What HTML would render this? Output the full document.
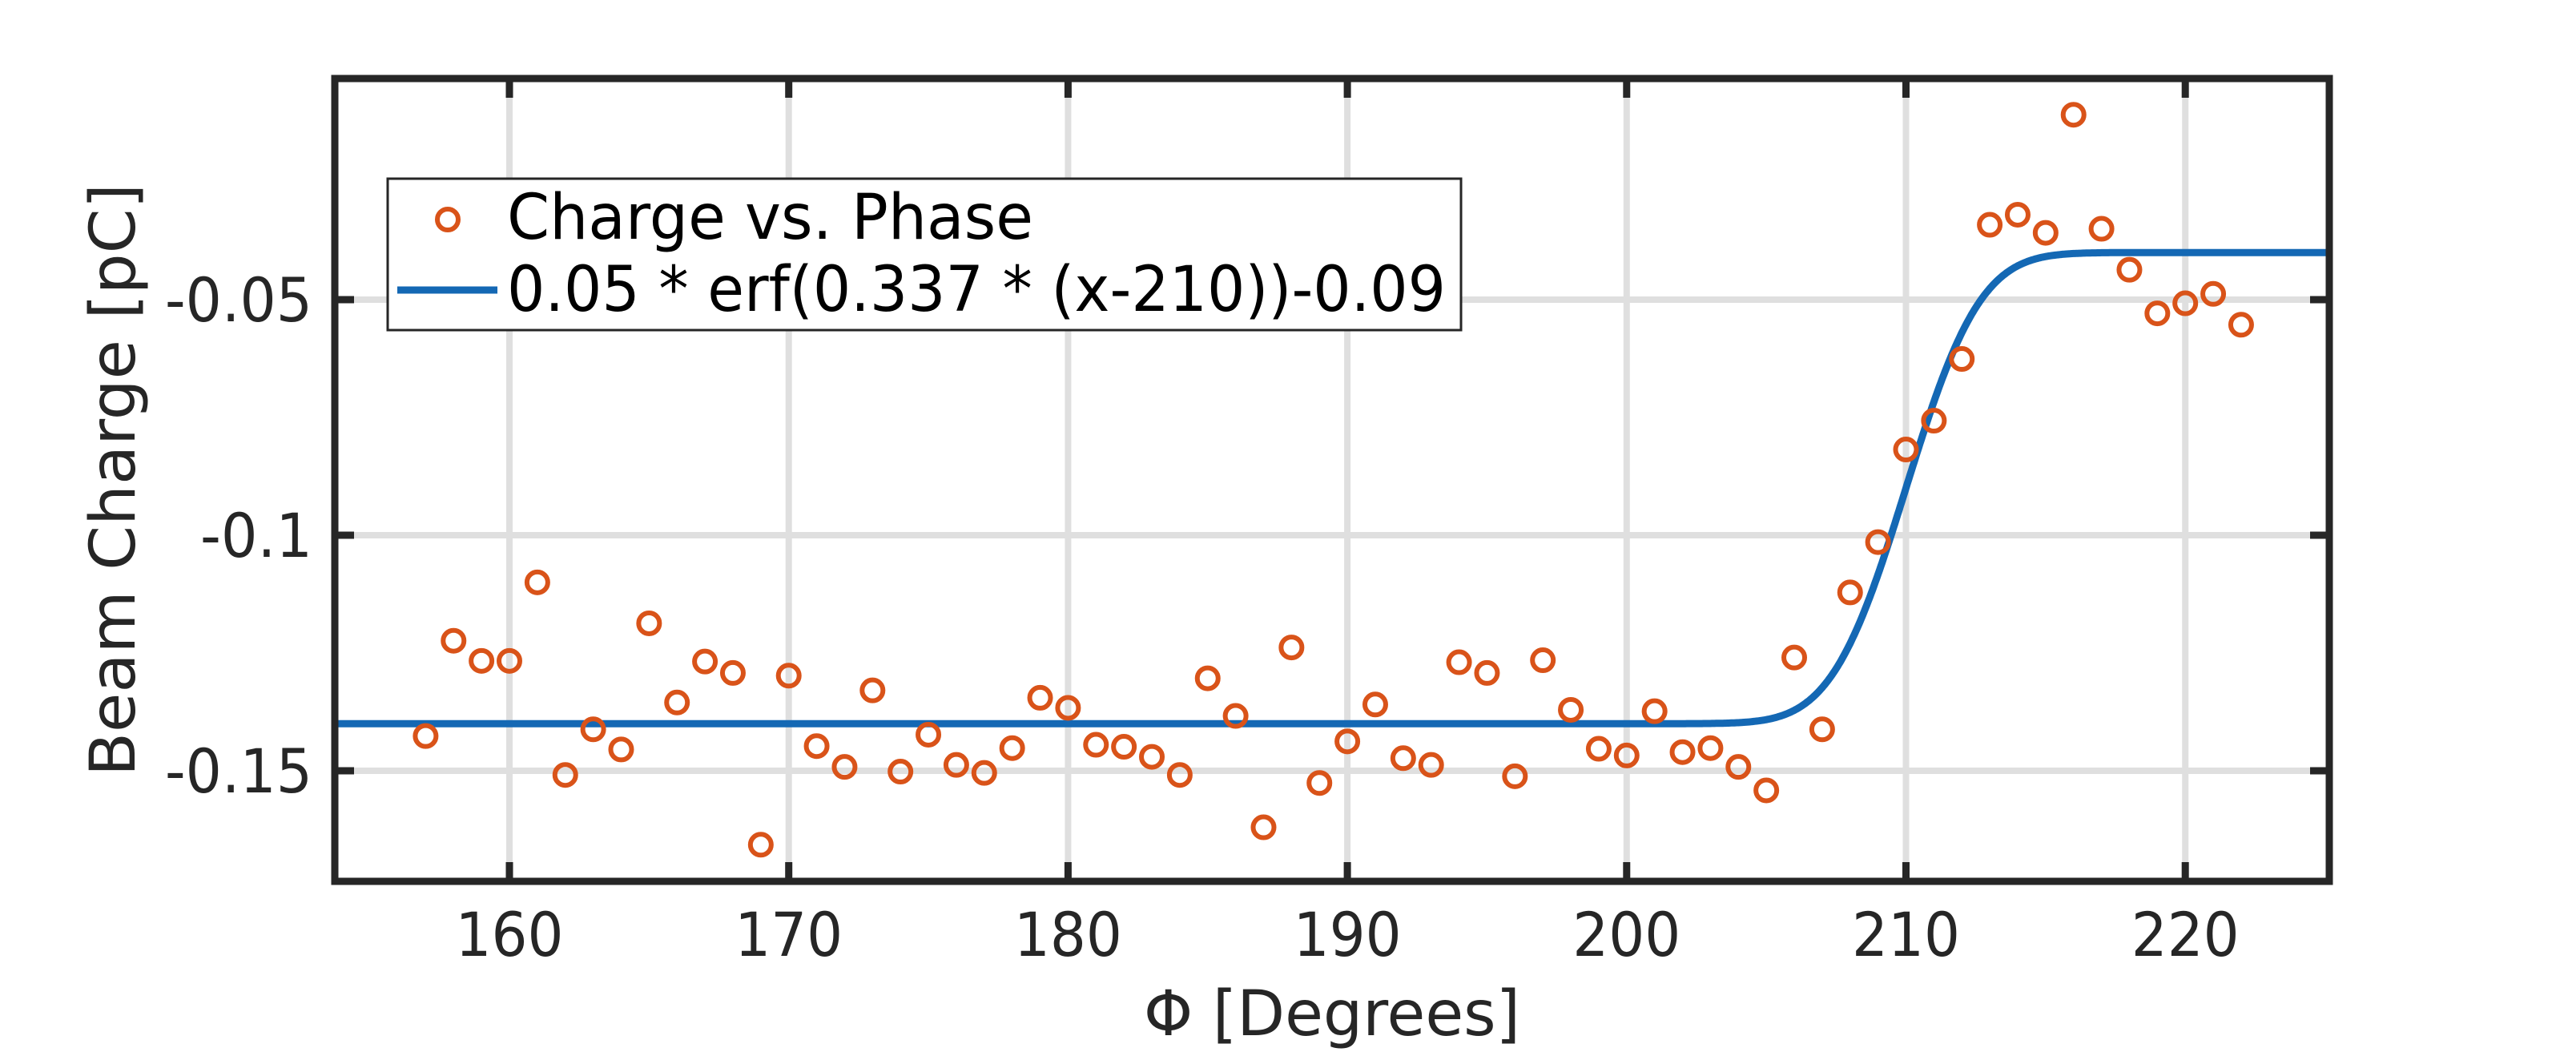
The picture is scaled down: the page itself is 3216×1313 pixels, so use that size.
<!DOCTYPE html>
<html><head><meta charset="utf-8"><style>
html,body{margin:0;padding:0;background:#fff;}
svg{display:block;}
text{font-family:"DejaVu Sans","Liberation Sans",sans-serif;fill:#262626;}
</style></head><body>
<svg id="s" width="3216" height="1313" viewBox="0 0 3216 1313" xmlns="http://www.w3.org/2000/svg">
<rect width="3216" height="1313" fill="#fff"/>
<g id="grid" stroke="#dfdfdf" stroke-width="8"></g>
<g id="curve"></g>
<g id="pts" fill="none" stroke="#d95319" stroke-width="6"></g>
<g id="ticks" stroke="#262626" stroke-width="9"></g>
<rect x="418" y="98" width="2490" height="1002" fill="none" stroke="#262626" stroke-width="9"/>
<g id="labels" font-size="76"></g>
<text x="1663" y="1292" font-size="78" text-anchor="middle" textLength="470" lengthAdjust="spacingAndGlyphs">Φ [Degrees]</text>
<text transform="translate(168,599) rotate(-90)" font-size="78" text-anchor="middle" textLength="740" lengthAdjust="spacingAndGlyphs">Beam Charge [pC]</text>
<rect x="484" y="223" width="1340" height="189" fill="#fff" stroke="#262626" stroke-width="3"/>
<circle cx="559" cy="274" r="13" fill="none" stroke="#d95319" stroke-width="6"/>
<line x1="496" y1="362" x2="621" y2="362" stroke="#1468b4" stroke-width="9"/>
<text x="633" y="298" font-size="78" style="fill:#000" textLength="657" lengthAdjust="spacingAndGlyphs">Charge vs. Phase</text>
<text x="633" y="388" font-size="78" style="fill:#000" textLength="1172" lengthAdjust="spacingAndGlyphs">0.05 * erf(0.337 * (x-210))-0.09</text>
</svg>
<script>
var NS="http://www.w3.org/2000/svg";
function X(v){return 636+(v-160)*34.87;}
function Y(v){return 374-(v+0.05)*5880;}
function el(p,t,a){var e=document.createElementNS(NS,t);for(var k in a)e.setAttribute(k,a[k]);document.getElementById(p).appendChild(e);return e;}
[160,170,180,190,200,210,220].forEach(function(v){
 var x=X(v);
 el('grid','line',{x1:x,y1:98,x2:x,y2:1100});
 el('ticks','line',{x1:x,y1:98,x2:x,y2:122});
 el('ticks','line',{x1:x,y1:1100,x2:x,y2:1076});
 var t=el('labels','text',{x:x,y:1193,'text-anchor':'middle',textLength:135,lengthAdjust:'spacingAndGlyphs'});t.textContent=v;
});
[[-0.05,'-0.05',184],[-0.1,'-0.1',140],[-0.15,'-0.15',184]].forEach(function(a){
 var y=Y(a[0]);
 el('grid','line',{x1:418,y1:y,x2:2908,y2:y});
 el('ticks','line',{x1:418,y1:y,x2:442,y2:y});
 el('ticks','line',{x1:2908,y1:y,x2:2884,y2:y});
 var t=el('labels','text',{x:390-a[2],y:y+27,textLength:a[2],lengthAdjust:'spacingAndGlyphs'});t.textContent=a[1];
});
function erf(x){var s=x<0?-1:1;x=Math.abs(x);var t=1/(1+0.3275911*x);
var y=1-(((((1.061405429*t-1.453152027)*t)+1.421413741)*t-0.284496736)*t+0.254829592)*t*Math.exp(-x*x);return s*y;}
var d="";for(var v=153.8;v<=225.2;v+=0.05){var y=0.05*erf(0.337*(v-210))-0.09;d+=(d?"L":"M")+X(v).toFixed(1)+","+Y(y).toFixed(1);}
el('curve','path',{d:d,fill:'none',stroke:'#1468b4','stroke-width':9});
var P=[1097,955,985,985,868,1155,1087,1117,929,1047,986,1003,1259,1007,1112,1143,1029,1150,1095,1140,1152,1115,1040,1055,1110,1113,1128,1155,1011,1067,1233,965,1167,1105,1050,1130,1140,987,1003,1157,984,1058,1116,1126,1060,1121,1115,1143,1178,980,1087,883,808,670,627,535,335,320,347,171,341,402,467,452,438,484];
P.forEach(function(z,i){el('pts','circle',{cx:X(157+i),cy:z*0.8374,r:13});});
</script>
</body></html>
